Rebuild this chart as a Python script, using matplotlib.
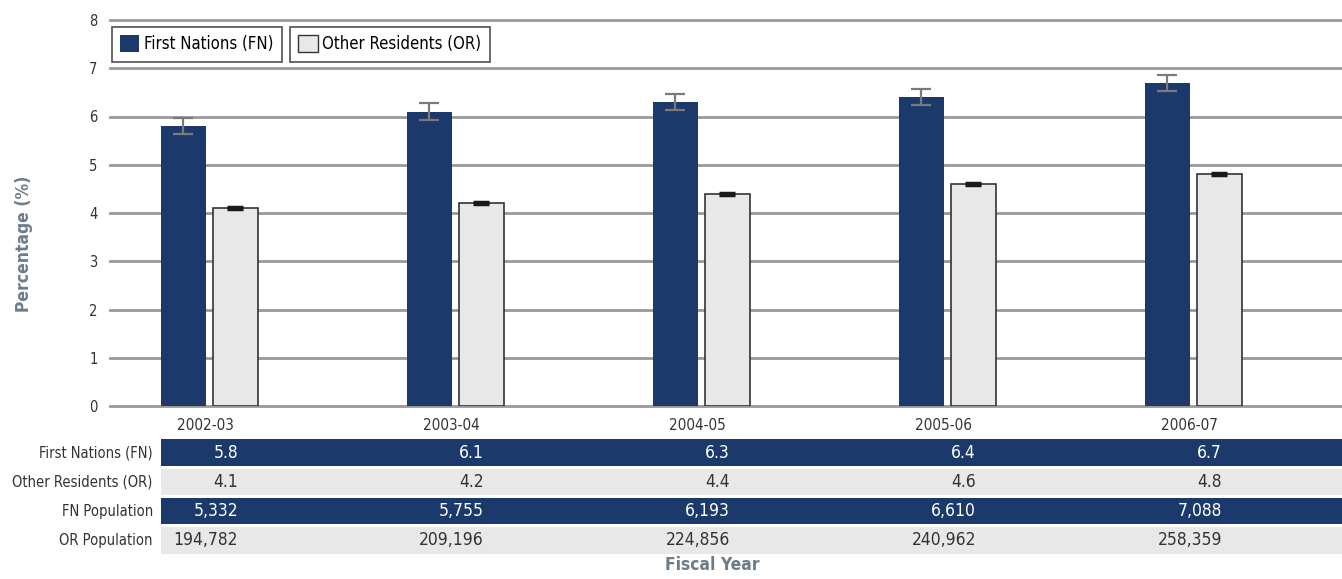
import matplotlib.pyplot as plt
from matplotlib.patches import Rectangle
import numpy as np

plt.rcParams['font.family'] = ['DejaVu Sans']
plt.rcParams['font.stretch'] = 'condensed'

years = ['2002-03', '2003-04', '2004-05', '2005-06', '2006-07']
fn_pct = [5.8, 6.1, 6.3, 6.4, 6.7]
or_pct = [4.1, 4.2, 4.4, 4.6, 4.8]
fn_err = [0.17, 0.17, 0.17, 0.17, 0.17]
or_err = [0.02, 0.02, 0.02, 0.02, 0.02]
fn_pop = [5332, 5755, 6193, 6610, 7088]
or_pop = [194782, 209196, 224856, 240962, 258359]
row_labels = ['First Nations (FN)', 'Other Residents (OR)', 'FN Population', 'OR Population']

navy = '#1b3a6b'
light = '#e8e8e8'
grid_c = '#999999'
label_c = '#6c7c89'

W, H = 1342, 579
fig = plt.figure(figsize=(W / 100, H / 100), dpi=100)

# main bar axes
ax = fig.add_axes([110 / W, 1 - 406 / H, 1 - 110 / W, (406 - 20) / H])
x = np.arange(len(years))
bw = 0.183
off = 0.106
ax.bar(x - off, fn_pct, bw, color=navy, zorder=3)
ax.bar(x + off, or_pct, bw, color=light, edgecolor='#333333', linewidth=1.2, zorder=3)
ax.errorbar(x - off, fn_pct, yerr=fn_err, fmt='none', ecolor='#7a7a7a',
            elinewidth=1.6, capsize=7, capthick=1.6, zorder=4)
ax.errorbar(x + off, or_pct, yerr=or_err, fmt='none', ecolor='#1a1a1a',
            elinewidth=2, capsize=6, capthick=2.5, zorder=4)

xmin, xmax = -0.404, 4.604
ax.set_xlim(xmin, xmax)
ax.set_ylim(0, 8)
ax.set_yticks(range(0, 9))
ax.yaxis.grid(True, color=grid_c, linewidth=2, zorder=0)
for gl in ax.get_ygridlines():
    gl.set_clip_on(False)
ax.set_axisbelow(True)
for s in ax.spines.values():
    s.set_visible(False)
ax.tick_params(axis='both', length=0, labelsize=10.5, colors='#333333')
ax.tick_params(axis='y', pad=9)
ax.tick_params(axis='x', pad=9, labelsize=11)
ax.set_xticks(x - 0.016)
ax.set_xticklabels(years)
ax.set_ylabel('Percentage (%)', fontsize=12.5, fontweight='bold', color=label_c)
ax.yaxis.set_label_coords(-77 / 1232, 0.42)

# legends as two separate boxes
h1 = Rectangle((0, 0), 1, 1, facecolor=navy)
h2 = Rectangle((0, 0), 1, 1, facecolor=light, edgecolor='#333333')
leg_kw = dict(fontsize=12, frameon=True, fancybox=False, edgecolor='#222222',
              handlelength=1.15, handleheight=1.15, handletextpad=0.3,
              borderpad=0.5, borderaxespad=0)
leg1 = ax.legend([h1], ['First Nations (FN)'], loc='upper left',
                 bbox_to_anchor=(2 / 1232, 1 - 7 / 386), **leg_kw)
leg1.get_frame().set_linewidth(1.2)
ax.add_artist(leg1)
leg2 = ax.legend([h2], ['Other Residents (OR)'], loc='upper left',
                 bbox_to_anchor=(180 / 1232, 1 - 7 / 386), **leg_kw)
leg2.get_frame().set_linewidth(1.2)

# data table below
tax = fig.add_axes([110 / W, 1 - 555 / H, 1 - 110 / W, (555 - 438) / H])
tax.set_xlim(xmin, xmax)
tax.set_ylim(4, 0)
tax.axis('off')
rows = [
    ([f'{v:.1f}' for v in fn_pct], navy, 'white'),
    ([f'{v:.1f}' for v in or_pct], light, '#333333'),
    ([f'{v:,}' for v in fn_pop], navy, 'white'),
    ([f'{v:,}' for v in or_pop], light, '#333333'),
]
x0 = -0.197
for i, (vals, bg, fg) in enumerate(rows):
    tax.add_patch(Rectangle((x0, i + 0.05), xmax - x0, 0.9, facecolor=bg,
                            edgecolor='none', clip_on=False))
    tax.text(-0.23, i + 0.5, row_labels[i], ha='right', va='center',
             fontsize=10.5, color='#333333')
    for j, v in enumerate(vals):
        tax.text(j + 0.116, i + 0.5, v, ha='right', va='center',
                 fontsize=12.5, color=fg)

fig.text(712 / W, 1 - 565 / H, 'Fiscal Year', ha='center', va='center',
         fontsize=12.5, fontweight='bold', color=label_c)

fig.savefig('out.png', dpi=100)
